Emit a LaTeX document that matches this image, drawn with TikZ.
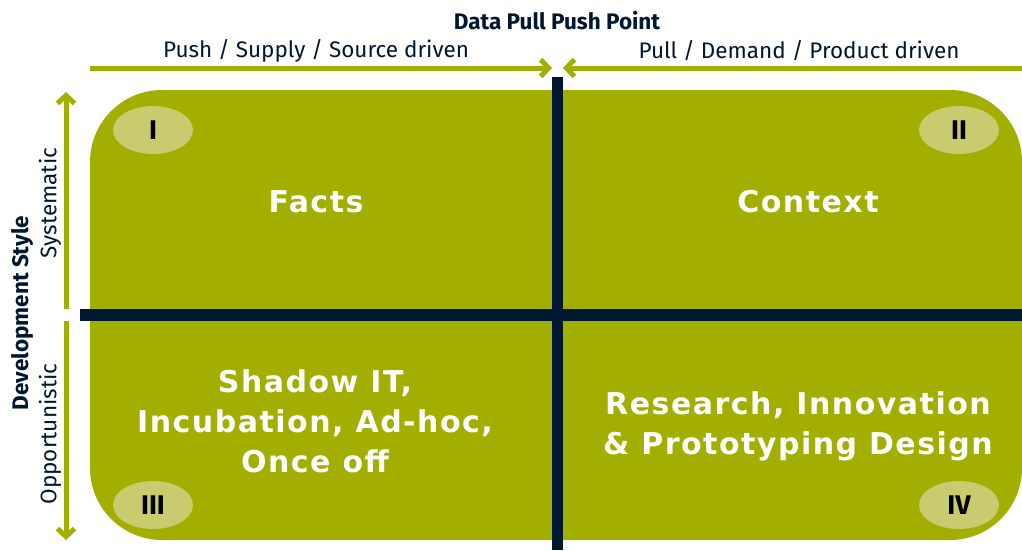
\documentclass[tikz,border=0pt]{standalone}
\usepackage{fontspec}
\setmainfont{Fira Sans}
\newfontfamily\quadfont[LetterSpace=5]{DejaVu Sans}
\usetikzlibrary{arrows.meta,shapes.geometric}
\definecolor{qgreen}{HTML}{A2AF00}
\definecolor{qlight}{HTML}{C8CC6E}
\definecolor{qnavy}{HTML}{001730}
\tikzset{
  axisarrow/.style={draw=qgreen, line width=5pt, -{Straight Barb[length=8pt,width=17pt,line width=5pt]}},
  numell/.style={ellipse, fill=qlight, minimum width=80pt, minimum height=48pt, inner sep=0pt,
     font=\bfseries\fontsize{27}{27}\selectfont, text=black},
  quadtext/.style={text=white, align=center, font=\quadfont\bfseries\fontsize{30}{40}\selectfont},
  axislabel/.style={text=qnavy, font=\fontsize{22.5}{24}\selectfont},
  axistitle/.style={text=qnavy, font=\bfseries\fontsize{22.5}{24}\selectfont},
}
\begin{document}
\begin{tikzpicture}[x=1pt,y=-1pt]
\useasboundingbox (0,0) rectangle (1022,550);
% green field
\fill[qgreen, rounded corners=72pt] (90,90) rectangle (1022,540);
% dark cross bars
\fill[qnavy] (552,77) rectangle (563,550);
\fill[qnavy] (80,309) rectangle (1022,321);
% horizontal axis
\coordinate (hl) at (90,68);
\coordinate (hlt) at (552,68);
\coordinate (hr) at (1022,68);
\coordinate (hrt) at (563,68);
\draw[axisarrow] (hl) -- (hlt);
\draw[axisarrow] (hr) -- (hrt);
% vertical axis
\coordinate (vu) at (66,309);
\coordinate (vut) at (66,92);
\coordinate (vd) at (66,321);
\coordinate (vdt) at (66,540);
\draw[axisarrow] (vu) -- (vut);
\draw[axisarrow] (vd) -- (vdt);
% labels
\node[axistitle] (title) at (557,21) {Data Pull Push Point};
\node[axislabel] (push) at (316,51) {Push / Supply / Source driven};
\node[axislabel] (pull) at (799,51) {Pull / Demand / Product driven};
\node[axistitle, rotate=90] (dev) at (22,313) {Development Style};
\node[axislabel, rotate=90] (sys) at (50,203) {Systematic};
\node[axislabel, rotate=90] (opp) at (50,434) {Opportunistic};
% numerals
\node[numell] (n1) at (153,130) {I};
\node[numell] (n2) at (959,130) {II};
\node[numell] (n3) at (153,505) {III};
\node[numell] (n4) at (959,505) {IV};
% quadrant texts
\node[quadtext] (facts) at (316,202) {Facts};
\node[quadtext] (context) at (808,202) {Context};
\node[quadtext] (shadow) at (315,421) {Shadow IT,\\Incubation, Ad-hoc,\\Once off};
\node[quadtext] (research) at (798,426) {Research, Innovation\\\& Prototyping Design};
\end{tikzpicture}
\end{document}
